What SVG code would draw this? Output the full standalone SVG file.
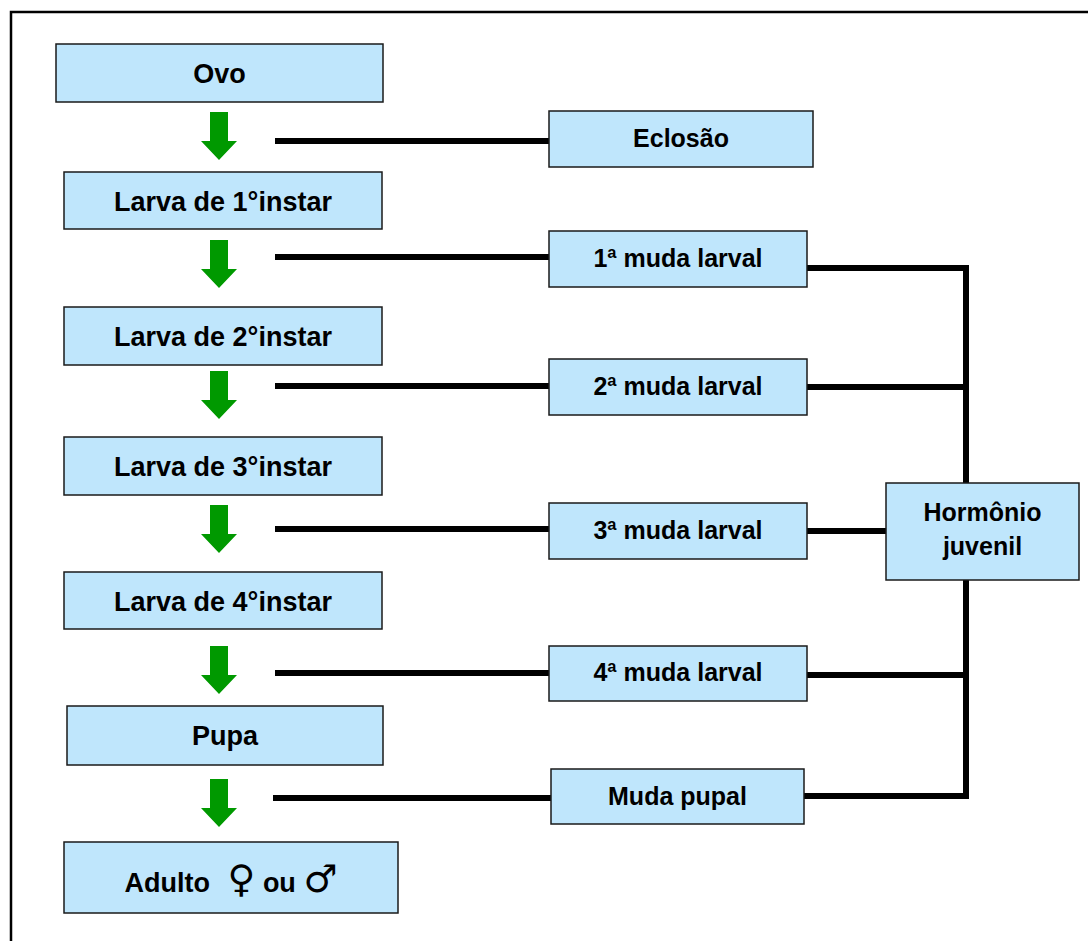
<svg xmlns="http://www.w3.org/2000/svg" width="1088" height="941" viewBox="0 0 1088 941">
<defs>
<style>
.box{fill:#BFE6FC;stroke:#1a1a1a;stroke-width:1.5}
.t{font-family:"Liberation Sans",Arial,sans-serif;font-weight:bold;fill:#000;text-anchor:middle}
.L{font-size:27px}
.R{font-size:25px}
.sym{font-family:"DejaVu Sans",sans-serif;font-weight:normal;fill:#000}
.arr{fill:#009900}
.ln{stroke:#000;stroke-width:6;fill:none;stroke-linejoin:miter}
</style>
<polygon id="arrow" class="arr" points="-9,0 9,0 9,29 18,29 0,48 -18,29 -9,29"/>
</defs>
<rect x="0" y="0" width="1088" height="941" fill="#fff"/>
<rect x="11" y="12" width="1090" height="940" fill="none" stroke="#000" stroke-width="2.5"/>

<g id="connectors">
<use href="#arrow" x="219" y="112"/>
<use href="#arrow" x="219" y="240"/>
<use href="#arrow" x="219" y="371"/>
<use href="#arrow" x="219" y="505"/>
<use href="#arrow" x="219" y="646"/>
<use href="#arrow" x="219" y="779"/>
<line class="ln" x1="275" y1="141" x2="549" y2="141"/>
<line class="ln" x1="275" y1="257" x2="549" y2="257"/>
<line class="ln" x1="275" y1="386" x2="549" y2="386"/>
<line class="ln" x1="275" y1="529" x2="549" y2="529"/>
<line class="ln" x1="275" y1="673" x2="549" y2="673"/>
<line class="ln" x1="273" y1="798" x2="551" y2="798"/>
<path class="ln" d="M807,268 H966 V483"/>
<line class="ln" x1="807" y1="387" x2="966" y2="387"/>
<line class="ln" x1="807" y1="531" x2="886" y2="531"/>
<line class="ln" x1="807" y1="675" x2="966" y2="675"/>
<path class="ln" d="M804,796 H966 V580"/>
</g>

<g id="ovo"><rect class="box" x="56" y="44" width="327" height="58"/><text class="t L" x="219.5" y="83">Ovo</text></g>
<g id="larva1"><rect class="box" x="64" y="172" width="318" height="57"/><text class="t L" x="223" y="211">Larva de 1°instar</text></g>
<g id="larva2"><rect class="box" x="64" y="307" width="318" height="58"/><text class="t L" x="223" y="346">Larva de 2°instar</text></g>
<g id="larva3"><rect class="box" x="64" y="437" width="318" height="58"/><text class="t L" x="223" y="476">Larva de 3°instar</text></g>
<g id="larva4"><rect class="box" x="64" y="572" width="318" height="57"/><text class="t L" x="223" y="611">Larva de 4°instar</text></g>
<g id="pupa"><rect class="box" x="67" y="706" width="316" height="59"/><text class="t L" x="225" y="745">Pupa</text></g>
<g id="adulto"><rect class="box" x="64" y="842" width="334" height="71"/><text class="t L" x="231" y="892">Adulto <tspan class="sym" font-size="38" dx="10">♀</tspan> ou <tspan class="sym" font-size="38">♂</tspan></text></g>

<g id="eclosao"><rect class="box" x="549" y="111" width="264" height="56"/><text class="t R" x="681" y="147">Eclosão</text></g>
<g id="muda1"><rect class="box" x="549" y="231" width="258" height="56"/><text class="t R" x="678" y="267">1ª muda larval</text></g>
<g id="muda2"><rect class="box" x="549" y="359" width="258" height="56"/><text class="t R" x="678" y="395">2ª muda larval</text></g>
<g id="muda3"><rect class="box" x="549" y="503" width="258" height="56"/><text class="t R" x="678" y="539">3ª muda larval</text></g>
<g id="muda4"><rect class="box" x="549" y="646" width="258" height="55"/><text class="t R" x="678" y="681">4ª muda larval</text></g>
<g id="mudapupal"><rect class="box" x="551" y="769" width="253" height="55"/><text class="t R" x="677.5" y="805">Muda pupal</text></g>
<g id="hormonio"><rect class="box" x="886" y="483" width="193" height="97"/><text class="t R" x="982.5" y="521">Hormônio</text><text class="t R" x="982.5" y="555">juvenil</text></g>
</svg>
